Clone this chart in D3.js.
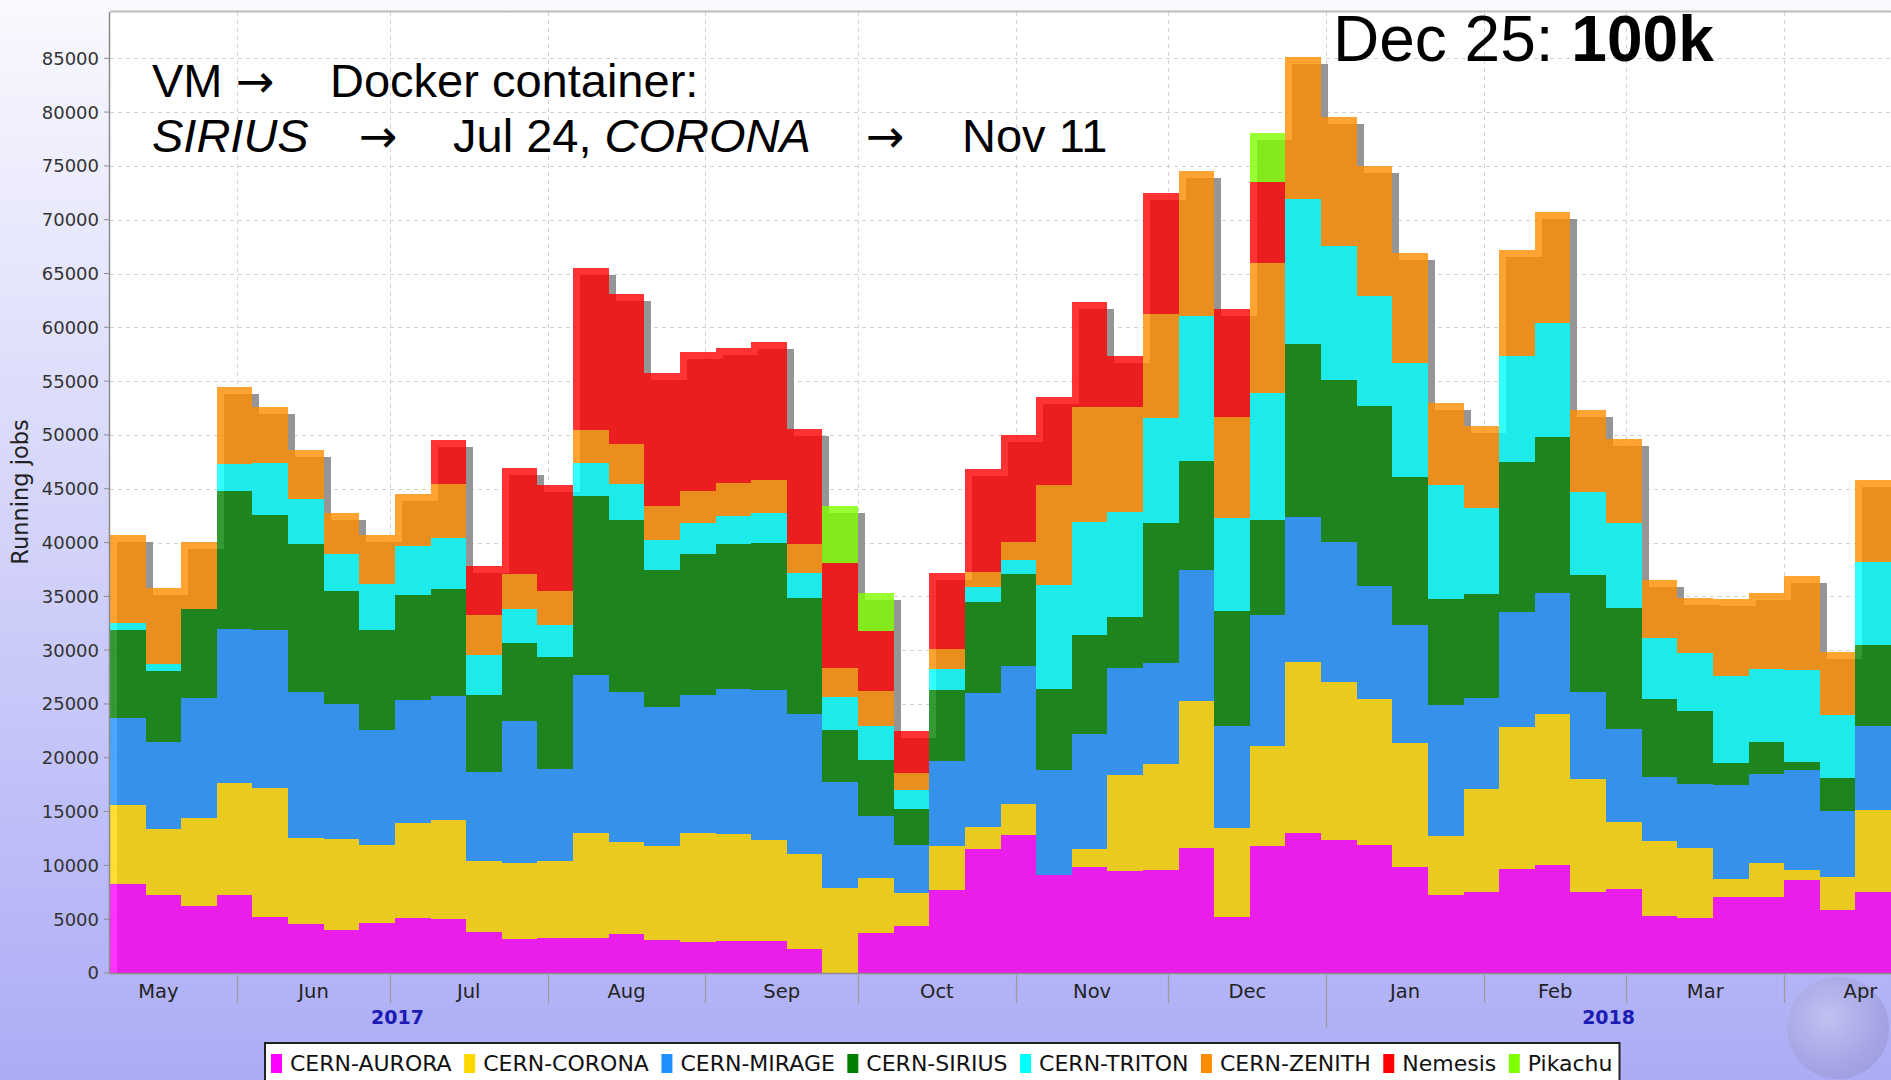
<!DOCTYPE html>
<html><head><meta charset="utf-8">
<script src="https://cdn.jsdelivr.net/npm/d3@7"></script>
<style>html,body{margin:0;padding:0;overflow:hidden;background:#fff}</style>
</head><body>
<svg id="chart" width="1891" height="1080"></svg>
<script>
// ---------------- data ----------------
const seriesNames  = ["CERN-AURORA","CERN-CORONA","CERN-MIRAGE","CERN-SIRIUS","CERN-TRITON","CERN-ZENITH","Nemesis","Pikachu"];
const seriesColors = ["#ff00ff","#ffd700","#1e90ff","#008000","#00ffff","#ff8c00","#ff0000","#7fff00"];
const firstWeek = "2017-05-07";
const lastWeekEnd = "2018-04-22";
const aurora  = [8240,7290,6260,7220,5200,4590,3970,4650,5110,5020,3810,3200,3250,3250,3600,3040,2880,2980,3010,2200,0,3750,4340,7700,11560,12860,9150,9850,9450,9550,11620,5200,11780,13010,12330,11930,9850,7220,7530,9700,10080,7530,7850,5270,5150,7070,7070,8680,5890,7530];
const corona  = [7410,6070,8140,10440,12030,7960,8520,7220,8830,9170,6600,7030,7130,9760,8580,8760,10130,9970,9320,8890,7900,5080,3100,4100,2010,2880,0,1710,8930,9910,13630,8280,9320,15900,14720,13570,11530,5490,9540,13160,14030,10540,6190,6970,6470,1640,3190,870,3030,7660];
const mirage  = [8050,8060,11190,14350,14620,13570,12480,10750,11470,11530,8270,13200,8550,14720,13940,12920,12800,13480,13950,12960,9850,5730,4430,7880,12490,12790,9690,10690,9980,9300,12240,9480,12150,13420,13020,10470,11000,12240,8490,10690,11210,8050,8620,5980,5980,8740,8210,9300,6140,7740];
const sirius  = [8210,6660,8210,12760,10690,13700,10530,9230,9690,9920,7190,7250,10440,16570,15960,12770,13170,13390,13640,10760,4870,5210,3410,6600,8420,8590,7590,9140,4680,13070,10100,10690,8830,16110,15030,16700,13720,9760,9640,13950,14500,10850,11270,7220,6750,2080,3000,770,3070,7540];
const triton  = [610,630,0,2510,4810,4190,3480,4340,4560,4740,3660,3130,3010,3130,3320,2790,2840,2670,2790,2320,3030,3190,1760,1930,1400,1300,9600,10530,9760,9700,13440,8590,11840,13460,12490,10220,10590,10630,8020,9850,10600,7740,7850,5700,5340,8060,6820,8520,5830,7740];
const zenith  = [8150,7030,6260,7180,5200,4580,3720,4490,4830,5050,3720,3230,3120,3070,3720,3090,2950,3000,3090,2700,2700,3230,1550,1860,1390,1640,9300,10690,9810,9670,13510,9390,12090,13240,11930,12090,10230,7590,7620,9830,10260,7600,7840,5370,5170,7160,7030,8740,5830,7590];
const nemesis = [0,0,0,0,0,0,0,0,0,4090,4560,9910,9830,14970,13940,12340,12890,12550,12860,10690,9750,5580,3870,7120,9520,9920,8150,9760,4750,11300,0,10040,7530,0,0,0,0,0,0,0,0,0,0,0,0,0,0,0,0,0];
const pikachu = [0,0,0,0,0,0,0,0,0,0,0,0,0,0,0,0,0,0,0,0,5270,3560,0,0,0,0,0,0,0,0,0,0,4560,0,0,0,0,0,0,0,0,0,0,0,0,0,0,0,0,0];
const yTicks = [0,5000,10000,15000,20000,25000,30000,35000,40000,45000,50000,55000,60000,65000,70000,75000,80000,85000];
const monthLabels = ["May","Jun","Jul","Aug","Sep","Oct","Nov","Dec","Jan","Feb","Mar","Apr"];
const yearLabels = ["2017","2018"];
const yAxisTitle = "Running jobs";

// ---------------- layout ----------------
const W = 1891, H = 1080;
const M = {left:110, right:1891, top:12, bottom:973};
const yMax = 89300;
const SH = 7; // shadow offset

const svg = d3.select("#chart");
const defs = svg.append("defs");

const bg = defs.append("linearGradient").attr("id","bg").attr("x1",0).attr("y1",0).attr("x2",0).attr("y2",1);
bg.append("stop").attr("offset","0").attr("stop-color","#f9f9fe");
bg.append("stop").attr("offset","1").attr("stop-color","#acacf6");
const gl = defs.append("radialGradient").attr("id","globe").attr("cx","0.4").attr("cy","0.4").attr("r","0.65");
gl.append("stop").attr("offset","0").attr("stop-color","#c8c8ee");
gl.append("stop").attr("offset","0.7").attr("stop-color","#a4a4e0");
gl.append("stop").attr("offset","1").attr("stop-color","#9898d8");
defs.append("clipPath").attr("id","plotclip").append("rect")
  .attr("x",M.left).attr("y",M.top).attr("width",M.right-M.left).attr("height",M.bottom-M.top);

svg.append("rect").attr("width",W).attr("height",H).attr("fill","url(#bg)");
svg.append("circle").attr("cx",1838).attr("cy",1028).attr("r",51).attr("fill","url(#globe)").attr("opacity",0.7);

const parse = d3.utcParse("%Y-%m-%d");
const start = parse(firstWeek), end = parse(lastWeekEnd);
const weeks = d3.utcSunday.range(start, end);
const x = d3.scaleUtc().domain([start,end]).range([M.left,M.right]);
const y = d3.scaleLinear().domain([0,yMax]).range([M.bottom,M.top]);

const cols = [aurora,corona,mirage,sirius,triton,zenith,nemesis,pikachu];
const rows = weeks.map((w,i)=>{const r={week:w}; seriesNames.forEach((n,k)=>r[n]=cols[k][i]); return r;});
const stacked = d3.stack().keys(seriesNames)(rows);
const totals = rows.map(r=>d3.sum(seriesNames,n=>r[n]));

// plot background
svg.append("rect").attr("x",M.left).attr("y",M.top).attr("width",M.right-M.left).attr("height",M.bottom-M.top).attr("fill","#ffffff");

// grid
const grid = svg.append("g").attr("stroke","#d2d2d2").attr("stroke-width",1).attr("stroke-dasharray","4,4");
yTicks.filter(t=>t>0).forEach(t=>{
  grid.append("line").attr("x1",M.left).attr("x2",M.right).attr("y1",Math.round(y(t))+0.5).attr("y2",Math.round(y(t))+0.5);
});
const monthStarts = d3.utcMonth.range(d3.utcMonth.ceil(start), end);
monthStarts.forEach(m=>{
  const xx = Math.round(x(m))+0.5;
  grid.append("line").attr("x1",xx).attr("x2",xx).attr("y1",M.top).attr("y2",M.bottom);
});

// shadow + bars
const plot = svg.append("g").attr("clip-path","url(#plotclip)");
const X0 = i=>Math.round(x(weeks[i]));
const X1 = i=>Math.round(x(d3.utcDay.offset(weeks[i],7)));
plot.append("g").selectAll("rect").data(weeks).join("rect")
  .attr("x",(d,i)=>X0(i)+SH).attr("width",(d,i)=>X1(i)-X0(i))
  .attr("y",(d,i)=>Math.round(y(totals[i]))+SH).attr("height",(d,i)=>M.bottom-Math.round(y(totals[i])))
  .attr("fill","#959595").attr("shape-rendering","crispEdges");
const layers = plot.append("g").selectAll("g").data(stacked).join("g")
  .attr("fill",(d,k)=>seriesColors[k]).attr("fill-opacity",0.8);
layers.selectAll("rect").data(d=>d.map((v,i)=>({v,i})).filter(o=>o.v[1]-o.v[0]>0)).join("rect")
  .attr("x",o=>X0(o.i)).attr("width",o=>X1(o.i)-X0(o.i))
  .attr("y",o=>Math.round(y(o.v[1]))).attr("height",o=>Math.round(y(o.v[0]))-Math.round(y(o.v[1])))
  .attr("shape-rendering","crispEdges");

// frame & axes
svg.append("line").attr("x1",M.left).attr("x2",M.right).attr("y1",M.top-0.5).attr("y2",M.top-0.5).attr("stroke","#bdbdbd").attr("stroke-width",2);
svg.append("line").attr("x1",M.left-0.5).attr("x2",M.left-0.5).attr("y1",M.top).attr("y2",M.bottom+1).attr("stroke","#8c8c8c").attr("stroke-width",1.5);
svg.append("line").attr("x1",M.left).attr("x2",M.right).attr("y1",M.bottom+0.5).attr("y2",M.bottom+0.5).attr("stroke","#8c8c8c").attr("stroke-width",1.5);

const yAxis = svg.append("g").attr("font-family","DejaVu Sans").attr("font-size",18).attr("fill","#333");
yTicks.forEach(t=>{
  const yy = y(t);
  yAxis.append("line").attr("x1",M.left-6).attr("x2",M.left).attr("y1",yy).attr("y2",yy).attr("stroke","#8c8c8c");
  yAxis.append("text").attr("x",M.left-11).attr("y",yy).attr("dy","0.36em").attr("text-anchor","end").text(t);
});
svg.append("text").attr("transform","translate(20,492) rotate(-90)").attr("text-anchor","middle").attr("dy","0.35em")
  .attr("font-family","DejaVu Sans").attr("font-size",22.5).attr("fill","#222").text(yAxisTitle);

// x axis
const xAxis = svg.append("g").attr("font-family","DejaVu Sans").attr("fill","#222");
const jan = d3.utcYear.ceil(start);
monthStarts.forEach(m=>{
  const xx = Math.round(x(m))+0.5;
  const isYear = +m === +jan;
  xAxis.append("line").attr("x1",xx).attr("x2",xx).attr("y1",M.bottom+2).attr("y2",isYear?1028:1003).attr("stroke","#9a9a9a").attr("stroke-width",1.2);
});
const monthAll = d3.utcMonth.range(d3.utcMonth.floor(start), end);
monthAll.forEach((m,i)=>{
  const cx = (x(m)+x(d3.utcMonth.offset(m,1)))/2;
  xAxis.append("text").attr("x",cx).attr("y",998).attr("text-anchor","middle").attr("font-size",19.5).text(monthLabels[i]);
});
const y2017c = (x(d3.utcYear.offset(jan,-1))+x(jan))/2;
const y2018c = (x(jan)+x(end))/2;
[y2017c,y2018c].forEach((cx,i)=>{
  xAxis.append("text").attr("x",cx).attr("y",1024).attr("text-anchor","middle").attr("font-size",19)
    .attr("font-weight","bold").attr("fill","#1c1cb4").text(yearLabels[i]);
});

// annotations
const AF = "Liberation Sans, Arial, sans-serif";
const ann = svg.append("g").attr("font-family",AF).attr("fill","#000").attr("font-size",47);
const arrow = (xx,yy)=>ann.append("text").attr("x",xx).attr("y",yy).attr("font-family","DejaVu Sans").attr("font-size",46).text("→");
ann.append("text").attr("x",152).attr("y",97).text("VM");
arrow(236,97);
ann.append("text").attr("x",330).attr("y",97).text("Docker container:");
ann.append("text").attr("x",152).attr("y",152).attr("font-style","italic").text("SIRIUS");
arrow(359,152);
const t2 = ann.append("text").attr("x",453).attr("y",152);
t2.append("tspan").text("Jul 24, ");
t2.append("tspan").attr("font-style","italic").text("CORONA");
arrow(866,152);
ann.append("text").attr("x",962).attr("y",152).text("Nov 11");
const t3 = svg.append("text").attr("x",1333).attr("y",61).attr("font-family",AF).attr("font-size",64).attr("fill","#000");
t3.append("tspan").text("Dec 25: ");
t3.append("tspan").attr("font-weight","bold").text("100k");

// legend
const lg = svg.append("g");
const box = lg.append("rect").attr("x",265).attr("y",1043).attr("height",60).attr("fill","#fff").attr("stroke","#222").attr("stroke-width",2);
const GAP = 12.5;
let lx = 271;
seriesNames.forEach((n,k)=>{
  lg.append("rect").attr("x",lx).attr("y",1054).attr("width",11).attr("height",19).attr("fill",seriesColors[k]);
  const t = lg.append("text").attr("x",lx+19).attr("y",1071).attr("font-family","DejaVu Sans").attr("font-size",22).attr("fill","#111").text(n);
  const w = t.node().getComputedTextLength();
  lx = lx + 19 + w + GAP;
});
box.attr("width", lx - GAP + 7 - 265);
</script>
</body></html>
